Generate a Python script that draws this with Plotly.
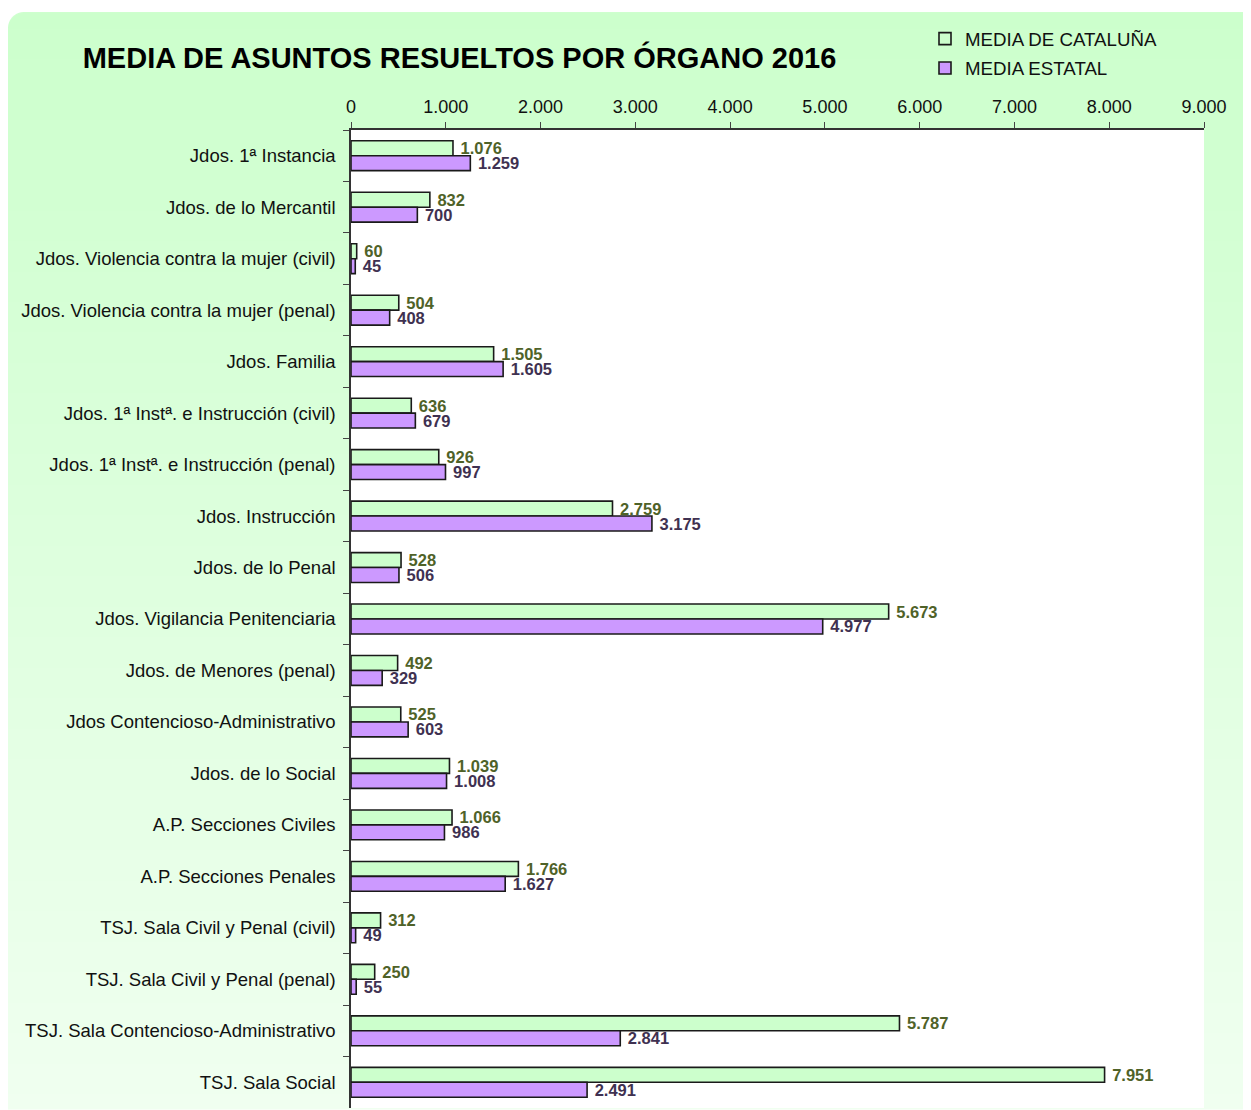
import base64
import math
import struct
import zlib

import plotly.graph_objects as go

# ---------------- data ----------------
categories = [
    "Jdos. 1ª Instancia",
    "Jdos. de lo Mercantil",
    "Jdos. Violencia contra la mujer (civil)",
    "Jdos. Violencia contra la mujer (penal)",
    "Jdos. Familia",
    "Jdos. 1ª Instª. e Instrucción (civil)",
    "Jdos. 1ª Instª. e Instrucción (penal)",
    "Jdos. Instrucción",
    "Jdos. de lo Penal",
    "Jdos. Vigilancia Penitenciaria",
    "Jdos. de Menores (penal)",
    "Jdos Contencioso-Administrativo",
    "Jdos. de lo Social",
    "A.P. Secciones Civiles",
    "A.P. Secciones Penales",
    "TSJ. Sala Civil y Penal (civil)",
    "TSJ. Sala Civil y Penal (penal)",
    "TSJ. Sala Contencioso-Administrativo",
    "TSJ. Sala Social",
]
media_cataluna = [1076, 832, 60, 504, 1505, 636, 926, 2759, 528, 5673,
                  492, 525, 1039, 1066, 1766, 312, 250, 5787, 7951]
media_estatal = [1259, 700, 45, 408, 1605, 679, 997, 3175, 506, 4977,
                 329, 603, 1008, 986, 1627, 49, 55, 2841, 2491]
series_names = ["MEDIA DE CATALUÑA", "MEDIA ESTATAL"]
x_tick_values = [0, 1000, 2000, 3000, 4000, 5000, 6000, 7000, 8000, 9000]
x_tick_labels = ["0", "1.000", "2.000", "3.000", "4.000", "5.000",
                 "6.000", "7.000", "8.000", "9.000"]
title_text = "MEDIA DE ASUNTOS RESUELTOS POR ÓRGANO 2016"

# ---------------- layout constants ----------------
# the page body has an 8px default margin: shift figure so it fills the window
OFF = 8
VIEW_W, VIEW_H = 1251, 1110
W, H = VIEW_W - OFF, VIEW_H - OFF
ML = 351 - OFF
MT = 130 - OFF
MR = VIEW_W - 1204
MB = VIEW_H - 1108.5
PW = W - ML - MR
PH = H - MT - MB
FONT = "Liberation Sans, Arial, sans-serif"


def fmt(v):
    return "\u00a0" + f"{v:,}".replace(",", ".")


def gradient_png(w, h, radius, top, bottom):
    rows = []
    for y in range(h):
        t = y / (h - 1)
        c = bytes([round(top[i] + (bottom[i] - top[i]) * t) for i in range(3)] + [255])
        row = bytearray(c * w)
        if y < radius:
            for x in range(radius):
                d = math.hypot(radius - (x + 0.5), radius - (y + 0.5))
                a = max(0.0, min(1.0, radius - d + 0.5))
                row[x * 4 + 3] = round(255 * a)
        rows.append(b"\x00" + bytes(row))
    raw = b"".join(rows)

    def chunk(tag, data):
        return (struct.pack(">I", len(data)) + tag + data
                + struct.pack(">I", zlib.crc32(tag + data) & 0xFFFFFFFF))

    png = (b"\x89PNG\r\n\x1a\n"
           + chunk(b"IHDR", struct.pack(">IIBBBBB", w, h, 8, 6, 0, 0, 0))
           + chunk(b"IDAT", zlib.compress(raw, 9))
           + chunk(b"IEND", b""))
    return "data:image/png;base64," + base64.b64encode(png).decode()


BG_X0, BG_Y0 = 8 - OFF, 12 - OFF
bg_src = gradient_png(W - BG_X0, H - BG_Y0, 16, (204, 255, 204), (240, 255, 240))


def px_to_paper_x(px):
    return (px - ML) / PW


def py_to_paper_y(py):
    return (H - MB - py) / PH


fig = go.Figure()
fig.add_trace(go.Bar(
    y=categories, x=media_cataluna, orientation="h", name=series_names[0],
    marker=dict(color="#CCFFCC", line=dict(color="#1a1a1a", width=1.6)),
    text=[fmt(v) for v in media_cataluna], textposition="outside",
    textfont=dict(family=FONT, size=16.5, color="#4F6228", weight="bold"),
    constraintext="none", cliponaxis=False, legendgroup="a",
))
fig.add_trace(go.Bar(
    y=categories, x=media_estatal, orientation="h", name=series_names[1],
    marker=dict(color="#CC99FF", line=dict(color="#1a1a1a", width=1.6)),
    text=[fmt(v) for v in media_estatal], textposition="outside",
    textfont=dict(family=FONT, size=16.5, color="#3F3151", weight="bold"),
    constraintext="none", cliponaxis=False, legendgroup="b",
))

fig.update_layout(
    width=W, height=H,
    margin=dict(l=ML, r=MR, t=MT, b=MB, autoexpand=False),
    paper_bgcolor="white", plot_bgcolor="white",
    font=dict(family=FONT, color="#111111"),
    barmode="group", bargap=0.42, bargroupgap=0.0,
    separators=",.",
    title=dict(text=title_text, x=(459.5 - OFF) / W, xref="container", xanchor="center",
               y=1 - (58 - OFF) / H, yref="container", yanchor="middle",
               font=dict(family=FONT, size=29, color="#000000", weight="bold")),
    legend=dict(x=(925 - OFF) / W, xref="container", xanchor="left",
                y=1 - (20 - OFF) / H, yref="container", yanchor="top",
                bgcolor="rgba(0,0,0,0)", font=dict(family=FONT, size=18.7, color="#111111"),
                itemwidth=30, traceorder="grouped", tracegroupgap=2),
    xaxis=dict(side="top", range=[0, 9000], tickvals=x_tick_values, ticktext=x_tick_labels,
               ticks="outside", ticklen=6, tickcolor="#444444", showline=True,
               linecolor="#333333", linewidth=1.5, showgrid=False, zeroline=False,
               ticklabelstandoff=2,
               tickfont=dict(family=FONT, size=18, color="#111111")),
    yaxis=dict(type="category", autorange="reversed", ticks="outside", tickson="boundaries",
               ticklen=6, tickcolor="#444444", showline=True, linecolor="#333333",
               linewidth=1.5, showgrid=False, zeroline=False, ticklabelstandoff=10,
               tickfont=dict(family=FONT, size=18.5, color="#111111")),
    images=[dict(source=bg_src, xref="paper", yref="paper",
                 x=px_to_paper_x(BG_X0), y=py_to_paper_y(BG_Y0),
                 sizex=(W - BG_X0) / PW, sizey=(H - BG_Y0) / PH,
                 xanchor="left", yanchor="top", sizing="stretch", layer="below")],
    shapes=[dict(type="rect", xref="paper", yref="paper", x0=0, x1=1, y0=0, y1=1,
                 fillcolor="white", line=dict(width=0), layer="below")],
)

fig.write_html("out.html")
